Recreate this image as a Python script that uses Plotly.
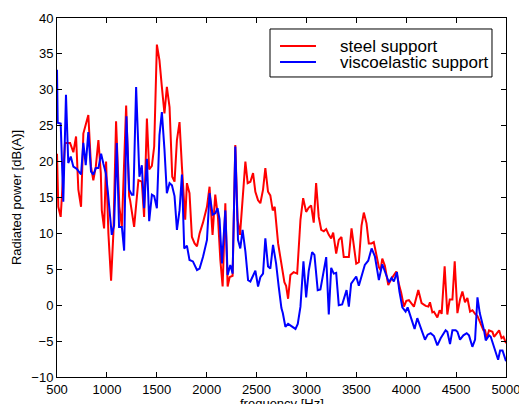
import plotly.graph_objects as go

steel_freq = [500, 513, 537, 580, 631, 664, 691, 714, 741, 764, 814, 841, 864, 889, 915, 939, 949, 972, 992,
              1015, 1042, 1065, 1092, 1125, 1150, 1193, 1223, 1233, 1273, 1316, 1350, 1373, 1401, 1424, 1451,
              1474, 1501, 1527, 1551, 1577, 1601, 1628, 1655, 1678, 1702, 1728, 1752, 1785, 1802, 1828, 1852,
              1879, 1903, 1929, 1963, 2003, 2029, 2059, 2086, 2113, 2137, 2160, 2187, 2210, 2230, 2260, 2287,
              2310, 2334, 2360, 2388, 2411, 2438, 2465, 2488, 2515, 2538, 2565, 2588, 2615, 2638, 2662, 2682,
              2716, 2749, 2779, 2796, 2816, 2839, 2872, 2907, 2940, 2967, 2997, 3023, 3047, 3073, 3097, 3123,
              3148, 3174, 3198, 3224, 3248, 3268, 3298, 3324, 3351, 3374, 3409, 3425, 3452, 3475, 3499, 3525,
              3552, 3575, 3602, 3625, 3653, 3675, 3703, 3726, 3743, 3760, 3786, 3820, 3853, 3901, 3927, 3950,
              3977, 4001, 4027, 4077, 4121, 4154, 4195, 4222, 4238, 4262, 4278, 4295, 4312, 4335, 4355, 4385,
              4412, 4436, 4463, 4486, 4513, 4539, 4563, 4589, 4613, 4640, 4664, 4690, 4714, 4747, 4774, 4790,
              4807, 4830, 4864, 4880, 4907, 4931, 4955, 4975, 5000]
steel_db = [21.1, 13.7, 12.3, 22.6, 22.6, 21.3, 23.5, 16.1, 13.7, 23.9, 26.5, 19.3, 17.4, 19.3, 23.0, 18.4, 13.2,
            10.7, 20.0, 10.0, 3.4, 10.0, 25.6, 13.7, 10.9, 27.8, 15.2, 14.6, 10.9, 17.4, 17.2, 12.3, 26.0, 18.9,
            19.4, 22.1, 36.3, 34.1, 30.4, 26.7, 30.4, 27.6, 17.9, 17.2, 23.0, 25.5, 19.3, 11.9, 17.0, 15.6, 9.5,
            8.6, 8.2, 10.0, 11.5, 13.7, 16.5, 9.8, 15.4, 12.3, 6.3, 2.6, 14.2, 2.6, 3.9, 4.1, 22.3,
            11.9, 9.8, 14.2, 20.0, 17.0, 17.2, 18.4, 15.8, 14.6, 14.2, 16.1, 19.1, 15.8, 15.3, 13.2, 13.7,
            8.6, 5.5, 3.2, 2.7, 0.9, 4.2, 4.6, 4.4, 11.9, 14.9, 13.0, 13.6, 13.9, 11.5, 17.0, 12.3,
            10.5, 10.3, 10.6, 9.8, 9.3, 10.1, 7.2, 9.1, 9.5, 6.7, 6.7, 6.7, 10.7, 8.6, 5.8, 6.0,
            11.1, 12.9, 11.4, 8.6, 8.6, 8.8, 6.7, 5.3, 4.9, 6.5, 5.5, 2.8, 3.7, 4.7, 2.9, 1.7,
            -0.2, 0.6, 0.7, -0.2, 2.1, 0.3, -0.1, -0.2, 0.4, -1.0, -0.9, -1.3, -1.7, -0.7, -1.2, 5.4,
            -1.3, 0.8, 0.8, 6.1, -1.1, 0.8, 1.9, 0.4, 1.0, -0.9, -0.7, -1.2, -1.5, -2.6, -3.5, -3.5,
            -4.6, -3.5, -3.7, -4.4, -3.9, -3.5, -4.6, -4.4, -5.3]

visco_freq = [500, 507, 537, 563, 590, 613, 638, 664, 698, 721, 741, 764, 788, 814, 841, 864, 889, 915, 942,
              965, 989, 1009, 1032, 1049, 1072, 1099, 1122, 1150, 1173, 1196, 1223, 1250, 1266, 1293, 1326,
              1350, 1373, 1401, 1424, 1451, 1474, 1501, 1527, 1551, 1577, 1601, 1628, 1652, 1678, 1702, 1728,
              1752, 1775, 1802, 1828, 1862, 1903, 1929, 1963, 2003, 2029, 2059, 2086, 2109, 2129, 2153, 2187,
              2210, 2237, 2260, 2287, 2314, 2337, 2360, 2388, 2415, 2438, 2488, 2515, 2538, 2565, 2588, 2615,
              2638, 2665, 2696, 2722, 2749, 2763, 2789, 2816, 2856, 2890, 2913, 2940, 2970, 2997, 3023, 3057,
              3080, 3113, 3140, 3160, 3198, 3224, 3248, 3274, 3298, 3324, 3358, 3402, 3425, 3448, 3475, 3499,
              3525, 3552, 3585, 3619, 3653, 3686, 3726, 3760, 3793, 3826, 3853, 3876, 3907, 3932, 3961, 3994,
              4014, 4047, 4084, 4111, 4145, 4188, 4215, 4245, 4278, 4312, 4345, 4395, 4412, 4439, 4463, 4496,
              4513, 4539, 4573, 4606, 4629, 4663, 4690, 4714, 4737, 4764, 4780, 4797, 4830, 4847, 4880, 4921,
              4941, 4965, 5000]
visco_db = [32.8, 25.4, 25.3, 14.4, 29.3, 19.8, 20.7, 19.3, 19.0, 18.6, 18.2, 22.6, 19.5, 24.1, 18.6, 18.2, 19.1,
            19.1, 21.1, 19.7, 18.4, 15.9, 12.3, 9.8, 11.1, 22.6, 10.9, 10.9, 7.6, 26.3, 16.1, 15.4, 15.4, 30.4,
            17.9, 19.5, 13.5, 20.4, 11.7, 15.4, 15.2, 13.5, 23.7, 26.9, 21.7, 15.6, 17.0, 16.7, 15.2, 10.5, 13.2,
            18.2, 7.9, 8.3, 6.3, 6.1, 4.9, 5.1, 6.7, 9.1, 15.6, 12.6, 12.8, 13.5, 12.0, 5.8, 13.2,
            4.2, 5.6, 4.4, 22.1, 9.1, 7.9, 10.5, 7.5, 3.5, 3.3, 4.8, 2.6, 3.9, 4.4, 9.3, 5.4,
            5.1, 8.4, 5.8, 2.6, -0.4, -1.1, -3.0, -2.6, -3.0, -3.3, -2.6, -0.2, 6.1, 1.1, 4.8, 7.4,
            7.0, 2.1, 2.2, 3.9, 6.7, -1.3, 5.2, 4.4, 4.5, 0.0, 0.1, 2.1, -0.2, 3.0, 3.5, 4.0,
            2.7, 3.9, 5.6, 6.2, 7.9, 6.8, 3.5, 5.7, 4.4, 3.2, 3.8, 3.3, 4.6, 1.9, -0.3, -0.9,
            -0.3, -1.7, -3.3, -1.8, -3.1, -4.8, -4.1, -3.9, -4.3, -5.6, -4.6, -3.5, -3.7, -5.4, -3.5, -3.5,
            -3.7, -4.8, -4.2, -3.9, -4.2, -5.8, -4.8, 1.1, -1.1, -2.6, -3.5, -4.9, -4.2, -4.4, -5.8, -7.6,
            -6.3, -6.3, -7.8]

x_ticks = [500, 1000, 1500, 2000, 2500, 3000, 3500, 4000, 4500, 5000]
y_ticks = [-10, -5, 0, 5, 10, 15, 20, 25, 30, 35, 40]

series_names = ["steel support", "viscoelastic support"]
series_colors = ["#ff0000", "#0000ff"]

FONT = "Liberation Sans, Arial, Helvetica, sans-serif"

fig = go.Figure()
for name, xs, ys, col in zip(series_names, [steel_freq, visco_freq], [steel_db, visco_db], series_colors):
    fig.add_trace(go.Scatter(x=xs, y=ys, mode="lines", name=name,
                             line=dict(color=col, width=2), showlegend=False))

# MATLAB-style legend box drawn in paper coordinates
legend_shapes = [dict(type="rect", xref="paper", yref="paper", x0=0.4744, x1=0.9688, y0=0.8357, y1=0.9694,
                      line=dict(color="black", width=1), fillcolor="white", layer="above")]
legend_annotations = []
for i, (name, col) in enumerate(zip(series_names, series_colors)):
    yy = [0.9220, 0.8774][i]
    legend_shapes.append(dict(type="line", xref="paper", yref="paper", x0=0.4967, x1=0.5768, y0=yy, y1=yy,
                              line=dict(color=col, width=2), layer="above"))
    legend_annotations.append(dict(text=name, xref="paper", yref="paper", x=0.6258, y=yy,
                                   xanchor="left", yanchor="middle", showarrow=False,
                                   font=dict(family=FONT, size=17, color="black")))

# x-axis title (sits partly below the window edge, as in the original)
legend_annotations.append(dict(text="frequency [Hz]", xref="paper", yref="paper", x=0.5, y=-0.047,
                               xanchor="center", yanchor="top", showarrow=False,
                               font=dict(family=FONT, size=13, color="black")))

axis_common = dict(showline=True, linecolor="black", linewidth=1, mirror="ticks",
                   ticks="inside", ticklen=5, tickcolor="black", showgrid=False, zeroline=False,
                   tickfont=dict(family=FONT, size=13, color="black"))

fig.update_layout(
    template="none",
    width=519, height=396,
    margin=dict(l=49, r=21, t=10, b=27),
    paper_bgcolor="white", plot_bgcolor="white",
    font=dict(family=FONT, color="black"),
    showlegend=False,
    shapes=legend_shapes,
    annotations=legend_annotations,
    xaxis=dict(range=[500, 5000], tickvals=x_ticks, **axis_common),
    yaxis=dict(range=[-10, 40], tickvals=y_ticks,
               title=dict(text="Radiated power [dB(A)]", font=dict(family=FONT, size=13), standoff=6),
               **axis_common),
)

fig.write_html("out.html")
